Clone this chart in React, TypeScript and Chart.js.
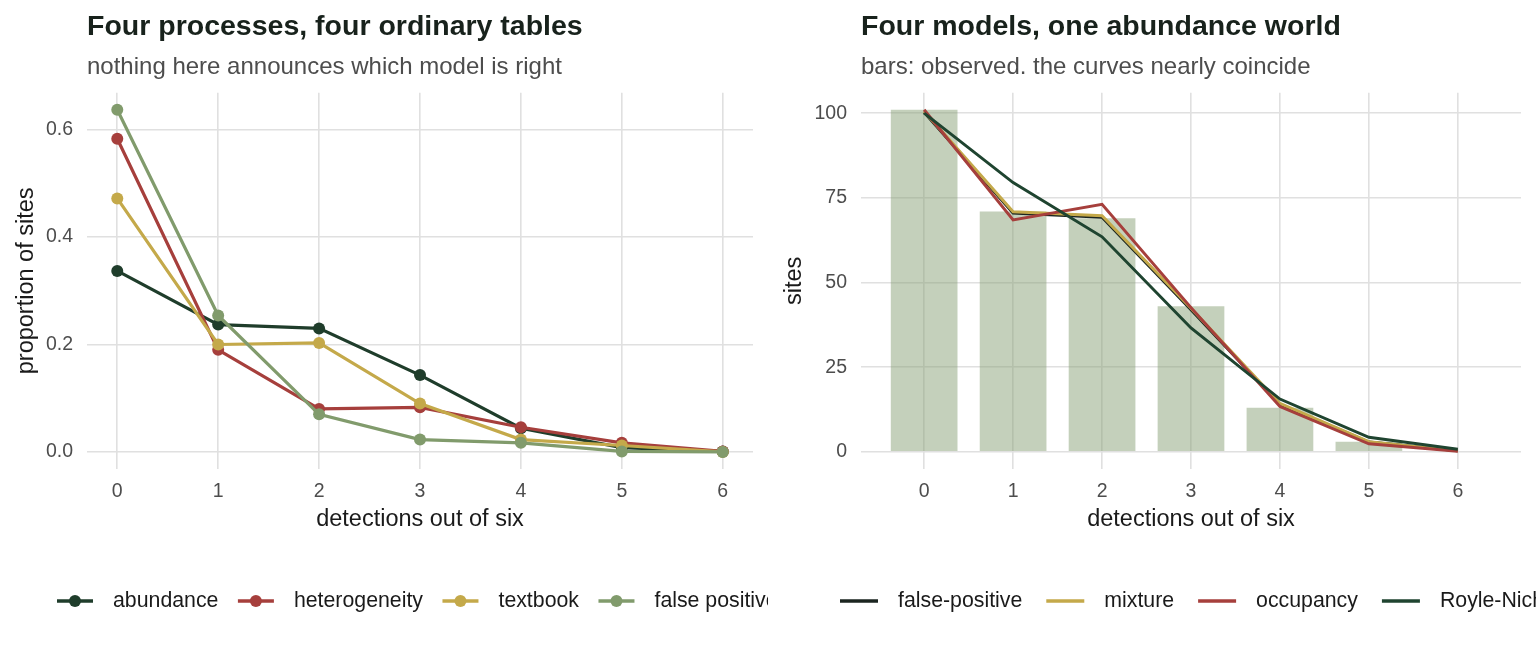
import React, { useEffect, useRef } from "react";
import { Chart, registerables } from "chart.js";

Chart.register(...registerables);

// ---------- data ----------
const detections = [0, 1, 2, 3, 4, 5, 6];

const seriesNamesLeft = ["abundance", "heterogeneity", "textbook", "false positive"];
const abundance = [0.337, 0.237, 0.23, 0.143, 0.044, 0.008, 0.001];
const heterogeneity = [0.583, 0.19, 0.08, 0.083, 0.046, 0.017, 0.001];
const textbook = [0.472, 0.2, 0.203, 0.09, 0.023, 0.012, 0.0];
const falsePositive = [0.637, 0.254, 0.07, 0.023, 0.017, 0.001, 0.0];

const seriesNamesRight = ["false-positive", "mixture", "occupancy", "Royle-Nichols"];
const observed = [101, 71, 69, 43, 13, 3, 0];
const fitFalsePositive = [100.3, 70.5, 69.3, 42.0, 14.0, 2.9, 0.3];
const fitMixture = [100.6, 70.9, 69.7, 42.4, 14.3, 3.0, 0.3];
const fitOccupancy = [101.0, 68.5, 73.1, 42.6, 13.4, 2.4, 0.2];
const fitRoyleNichols = [100.0, 79.5, 63.5, 36.6, 15.6, 4.3, 0.8];

const xTicks = [0, 1, 2, 3, 4, 5, 6];
const yTicksLeft = [0, 0.2, 0.4, 0.6];
const yTicksRight = [0, 25, 50, 75, 100];

// ---------- style ----------
const FONT = "'Liberation Sans', Arial, Helvetica, sans-serif";
const GRID = "#e0e0e0";
const TICK_COLOR = "#4d4d4d";
const TEXT_DARK = "#1a1a1a";
const TITLE_COLOR = "#18221c";

const C_ABUND = "#1f3d2b";
const C_HET = "#a63f3c";
const C_TEXT = "#c4a94a";
const C_FP = "#819b6c";
const C_FPFIT = "#1b2520";
const C_RN = "#1f4430";
const C_BAR = "rgba(131,156,112,0.48)";

const toXY = (ys: number[]) => detections.map((x, i) => ({ x, y: ys[i] }));

const ggLegend = {
  id: "ggLegend",
  afterDraw(chart: any, _args: any, opts: any) {
    const ctx = chart.ctx;
    ctx.save();
    ctx.font = `${opts.fontSize}px ${FONT}`;
    ctx.textBaseline = "middle";
    ctx.textAlign = "left";
    let x = opts.startX;
    const y = opts.y;
    chart.data.datasets.forEach((ds: any) => {
      if (ds.type === "bar") return;
      const col = ds.borderColor;
      ctx.strokeStyle = col;
      ctx.lineWidth = opts.lineWidth;
      ctx.beginPath();
      ctx.moveTo(x, y);
      ctx.lineTo(x + opts.symbolWidth, y);
      ctx.stroke();
      if (opts.point) {
        ctx.fillStyle = col;
        ctx.beginPath();
        ctx.arc(x + opts.symbolWidth / 2, y, opts.pointRadius, 0, Math.PI * 2);
        ctx.fill();
      }
      x += opts.symbolWidth + opts.textGap;
      ctx.fillStyle = opts.color;
      ctx.fillText(ds.label, x, y);
      x += ctx.measureText(ds.label).width + opts.itemGap;
    });
    ctx.restore();
  },
};

function commonOptions(p: {
  title: string;
  subtitle: string;
  yTitle: string;
  xMin: number;
  xMax: number;
  yMin: number;
  yMax: number;
  yTicks: number[];
  yFmt: (v: number) => string;
  yWidth: number;
  legendStartX: number;
  legendPoint: boolean;
  legendSymbolWidth: number;
  legendItemGap: number;
}) {
  return {
    responsive: false,
    animation: false as const,
    layout: { padding: { left: 0, right: 15, top: 0, bottom: 113 } },
    plugins: {
      legend: { display: false },
      tooltip: { enabled: false },
      title: {
        display: true,
        text: p.title,
        align: "start" as const,
        fullSize: false,
        color: TITLE_COLOR,
        font: { family: FONT, size: 28.5, weight: "bold" as const, lineHeight: 1.2 },
        padding: { top: 10, bottom: 0 },
      },
      subtitle: {
        display: true,
        text: p.subtitle,
        align: "start" as const,
        fullSize: false,
        color: TICK_COLOR,
        font: { family: FONT, size: 24, lineHeight: 1.2 },
        padding: { top: 8.5, bottom: 11.2 },
      },
      ggLegend: {
        startX: p.legendStartX,
        y: 601,
        fontSize: 21.3,
        color: TEXT_DARK,
        symbolWidth: p.legendSymbolWidth,
        textGap: 20,
        itemGap: p.legendItemGap,
        lineWidth: 3.4,
        point: p.legendPoint,
        pointRadius: 6,
      },
    },
    scales: {
      x: {
        type: "linear" as const,
        min: p.xMin,
        max: p.xMax,
        offset: false,
        afterBuildTicks: (s: any) => {
          s.ticks = xTicks.map((v) => ({ value: v }));
        },
        afterFit: (s: any) => {
          s.height = 70;
        },
        grid: { color: GRID, lineWidth: 1.6, drawTicks: false, offset: false },
        border: { display: false },
        ticks: {
          color: TICK_COLOR,
          font: { family: FONT, size: 19.5, lineHeight: 1.2 },
          padding: 11,
          autoSkip: false,
          maxRotation: 0,
          callback: (v: any) => String(v),
        },
        title: {
          display: true,
          text: "detections out of six",
          color: TEXT_DARK,
          font: { family: FONT, size: 23.5, lineHeight: 1.2 },
          padding: { top: 0, bottom: 5.5 },
        },
      },
      y: {
        type: "linear" as const,
        min: p.yMin,
        max: p.yMax,
        afterBuildTicks: (s: any) => {
          s.ticks = p.yTicks.map((v) => ({ value: v }));
        },
        afterFit: (s: any) => {
          s.width = p.yWidth;
        },
        grid: { color: GRID, lineWidth: 1.6, drawTicks: false },
        border: { display: false },
        ticks: {
          color: TICK_COLOR,
          font: { family: FONT, size: 19.5, lineHeight: 1.2 },
          padding: 14,
          autoSkip: false,
          callback: (v: any) => p.yFmt(Number(v)),
        },
        title: {
          display: true,
          text: p.yTitle,
          color: TEXT_DARK,
          font: { family: FONT, size: 23.5, lineHeight: 1.2 },
          padding: { top: 12.5, bottom: 0 },
        },
      },
    },
  };
}

function LeftChart() {
  const ref = useRef<HTMLCanvasElement | null>(null);
  useEffect(() => {
    if (!ref.current) return;
    const series = [abundance, heterogeneity, textbook, falsePositive];
    const colors = [C_ABUND, C_HET, C_TEXT, C_FP];
    const chart = new Chart(ref.current, {
      type: "line",
      data: {
        datasets: series.map((s, i) => ({
          type: "line" as const,
          label: seriesNamesLeft[i],
          data: toXY(s),
          borderColor: colors[i],
          backgroundColor: colors[i],
          pointBackgroundColor: colors[i],
          pointBorderWidth: 0,
          pointRadius: 6,
          borderWidth: 3.2,
          tension: 0,
          order: series.length - i,
        })),
      },
      options: commonOptions({
        title: "Four processes, four ordinary tables",
        subtitle: "nothing here announces which model is right",
        yTitle: "proportion of sites",
        xMin: -0.3,
        xMax: 6.3,
        yMin: -0.0318,
        yMax: 0.6688,
        yTicks: yTicksLeft,
        yFmt: (v) => v.toFixed(1),
        yWidth: 87,
        legendStartX: 57,
        legendPoint: true,
        legendSymbolWidth: 36,
        legendItemGap: 19.5,
      }) as any,
      plugins: [ggLegend],
    });
    return () => chart.destroy();
  }, []);
  return <canvas ref={ref} width={768} height={652} style={{ display: "block", width: 768, height: 652 }} />;
}

function RightChart() {
  const ref = useRef<HTMLCanvasElement | null>(null);
  useEffect(() => {
    if (!ref.current) return;
    const fits = [fitFalsePositive, fitMixture, fitOccupancy, fitRoyleNichols];
    const colors = [C_FPFIT, C_TEXT, C_HET, C_RN];
    const chart = new Chart(ref.current, {
      type: "bar",
      data: {
        datasets: [
          {
            type: "bar" as const,
            label: "observed",
            data: toXY(observed),
            backgroundColor: C_BAR,
            borderWidth: 0,
            categoryPercentage: 1,
            barPercentage: 0.75,
            order: 10,
          } as any,
          ...fits.map((s, i) => ({
            type: "line" as const,
            label: seriesNamesRight[i],
            data: toXY(s),
            borderColor: colors[i],
            backgroundColor: colors[i],
            pointRadius: 0,
            borderWidth: 3,
            tension: 0,
            order: fits.length - i,
          })),
        ],
      },
      options: commonOptions({
        title: "Four models, one abundance world",
        subtitle: "bars: observed. the curves nearly coincide",
        yTitle: "sites",
        xMin: -0.71,
        xMax: 6.71,
        yMin: -5.05,
        yMax: 106.05,
        yTicks: yTicksRight,
        yFmt: (v) => String(Math.round(v)),
        yWidth: 93,
        legendStartX: 72,
        legendPoint: false,
        legendSymbolWidth: 38,
        legendItemGap: 24,
      }) as any,
      plugins: [ggLegend],
    });
    return () => chart.destroy();
  }, []);
  return <canvas ref={ref} width={768} height={652} style={{ display: "block", width: 768, height: 652 }} />;
}

export default function App() {
  return (
    <div
      style={{
        position: "absolute",
        left: 0,
        top: 0,
        width: 1536,
        height: 652,
        display: "flex",
        background: "#ffffff",
        overflow: "hidden",
      }}
    >
      <LeftChart />
      <RightChart />
    </div>
  );
}
